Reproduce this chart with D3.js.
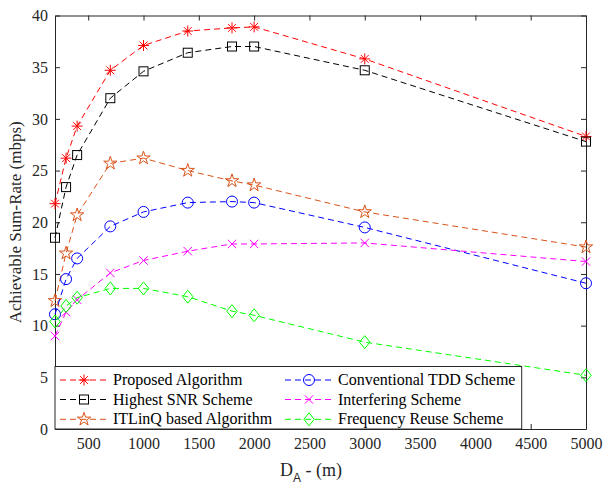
<!DOCTYPE html>
<html><head><meta charset="utf-8">
<script src="https://cdn.jsdelivr.net/npm/d3@7"></script>
<style>body{margin:0;background:#fff}svg{display:block}
text{font-family:'Liberation Serif','Times New Roman',serif}</style>
</head><body>
<script>
const distances = [200, 300, 400, 700, 1000, 1400, 1800, 2000, 3000, 5000];
const proposed   = [21.8, 26.2, 29.3, 34.7, 37.1, 38.5, 38.8, 38.9, 35.8, 28.3];
const highestSNR = [18.5, 23.4, 26.5, 32.0, 34.6, 36.4, 37.0, 37.0, 34.7, 27.8];
const itlinq     = [12.4, 17.0, 20.7, 25.7, 26.2, 25.0, 24.0, 23.6, 21.0, 17.6];
const tdd        = [11.1, 14.5, 16.5, 19.6, 21.0, 21.9, 22.0, 21.9, 19.5, 14.1];
const interfering= [9.0, 11.3, 12.5, 15.1, 16.3, 17.2, 17.9, 17.9, 18.0, 16.2];
const freqReuse  = [10.4, 11.9, 12.7, 13.6, 13.6, 12.8, 11.4, 11.0, 8.4, 5.2];
const xTicks = [500, 1000, 1500, 2000, 2500, 3000, 3500, 4000, 4500, 5000];
const yTicks = [0, 5, 10, 15, 20, 25, 30, 35, 40];
const seriesNames = ["Proposed Algorithm", "Highest SNR Scheme", "ITLinQ based Algorithm",
                     "Conventional TDD Scheme", "Interfering Scheme", "Frequency Reuse Scheme"];

const series = [
  {name: seriesNames[0], values: proposed, color: "#ff0000", marker: "asterisk"},
  {name: seriesNames[1], values: highestSNR, color: "#000000", marker: "square"},
  {name: seriesNames[2], values: itlinq, color: "#d95319", marker: "star"},
  {name: seriesNames[3], values: tdd, color: "#0000ff", marker: "circle"},
  {name: seriesNames[4], values: interfering, color: "#ff00ff", marker: "x"},
  {name: seriesNames[5], values: freqReuse, color: "#00ff00", marker: "diamond"}
];

const W = 606, H = 487;
const m = {left: 55, right: 20, top: 15.5, bottom: 58};
const svg = d3.select("body").append("svg").attr("width", W).attr("height", H);
const font = "'Liberation Serif', 'Times New Roman', serif";

const x = d3.scaleLinear().domain([200, 5000]).range([m.left, W - m.right]);
const y = d3.scaleLinear().domain([0, 40]).range([H - m.bottom, m.top]);
const x0 = m.left, x1 = W - m.right, y0 = H - m.bottom, y1 = m.top;

// axes
const fmt = d3.format("d");
const axB = svg.append("g").attr("transform", `translate(0,${y0})`)
  .call(d3.axisBottom(x).tickValues(xTicks).tickFormat(fmt).tickSizeInner(-5).tickSizeOuter(0).tickPadding(9));
const axT = svg.append("g").attr("transform", `translate(0,${y1})`)
  .call(d3.axisTop(x).tickValues(xTicks).tickSizeInner(-5).tickSizeOuter(0).tickFormat(""));
const axL = svg.append("g").attr("transform", `translate(${x0},0)`)
  .call(d3.axisLeft(y).tickValues(yTicks).tickFormat(fmt).tickSizeInner(-5).tickSizeOuter(0).tickPadding(7));
const axR = svg.append("g").attr("transform", `translate(${x1},0)`)
  .call(d3.axisRight(y).tickValues(yTicks).tickSizeInner(-5).tickSizeOuter(0).tickFormat(""));
[axB, axT, axL, axR].forEach(a => {
  a.attr("font-family", font).attr("font-size", 16);
  a.select(".domain").attr("stroke", "#262626").attr("stroke-width", 1);
  a.selectAll(".tick line").attr("stroke", "#262626");
  a.selectAll("text").attr("font-family", font).attr("font-size", 16).attr("fill", "#262626");
});

svg.append("defs").append("clipPath").attr("id", "c")
  .append("rect").attr("x", x0 - 10).attr("y", y1 - 10).attr("width", x1 - x0 + 20).attr("height", y0 - y1 + 20);

function drawMarker(g, type, cx, cy, color) {
  let el;
  if (type === "asterisk") {
    const r = 5.5, d = r * 0.7071;
    el = g.append("path").attr("d",
      `M${cx - r},${cy}L${cx + r},${cy}M${cx},${cy - r}L${cx},${cy + r}` +
      `M${cx - d},${cy - d}L${cx + d},${cy + d}M${cx - d},${cy + d}L${cx + d},${cy - d}`);
  } else if (type === "square") {
    el = g.append("rect").attr("x", cx - 4.5).attr("y", cy - 4.5).attr("width", 9).attr("height", 9);
  } else if (type === "star") {
    const R = 7, ri = R * 0.382;
    const pts = d3.range(10).map(i => {
      const a = -Math.PI / 2 + i * Math.PI / 5, rr = i % 2 ? ri : R;
      return [cx + rr * Math.cos(a), cy + rr * Math.sin(a)];
    });
    el = g.append("path").attr("d", "M" + pts.map(p => p.join(",")).join("L") + "Z");
  } else if (type === "circle") {
    el = g.append("circle").attr("cx", cx).attr("cy", cy).attr("r", 5.5);
  } else if (type === "x") {
    const d = 4.2;
    el = g.append("path").attr("d",
      `M${cx - d},${cy - d}L${cx + d},${cy + d}M${cx - d},${cy + d}L${cx + d},${cy - d}`);
  } else if (type === "diamond") {
    el = g.append("path").attr("d",
      `M${cx},${cy - 6.5}L${cx + 5.2},${cy}L${cx},${cy + 6.5}L${cx - 5.2},${cy}Z`);
  }
  el.attr("stroke", color).attr("stroke-width", 1).attr("fill", "none");
}

const line = d3.line().x(d => x(d[0])).y(d => y(d[1]));
const plot = svg.append("g").attr("clip-path", "url(#c)");
series.forEach(sr => {
  const pts = distances.map((d, i) => [d, sr.values[i]]);
  plot.append("path").datum(pts).attr("d", line)
    .attr("fill", "none").attr("stroke", sr.color).attr("stroke-width", 1)
    .attr("stroke-dasharray", "6,4");
  const mg = plot.append("g");
  pts.forEach(p => drawMarker(mg, sr.marker, x(p[0]), y(p[1]), sr.color));
});

// legend
const lg = svg.append("g");
const lx0 = x0, lx1 = 521.7, ly0 = 366.5, ly1 = y0;
lg.append("rect").attr("x", lx0).attr("y", ly0).attr("width", lx1 - lx0).attr("height", ly1 - ly0)
  .attr("fill", "#fff").attr("stroke", "#262626").attr("stroke-width", 1);
const rowsY = [380, 399.5, 419.3];
const colX = [60, 285];
series.forEach((sr, i) => {
  const col = Math.floor(i / 3), row = i % 3;
  const lx = colX[col], ly = rowsY[row];
  lg.append("line").attr("x1", lx).attr("x2", lx + 48).attr("y1", ly).attr("y2", ly)
    .attr("stroke", sr.color).attr("stroke-width", 1).attr("stroke-dasharray", "6,4");
  drawMarker(lg, sr.marker, lx + 24, ly, sr.color);
  lg.append("text").attr("x", lx + 53).attr("y", ly + 5).text(sr.name)
    .attr("font-family", font).attr("font-size", 16).attr("fill", "#000");
});

// axis labels
const xl = svg.append("text").attr("x", 280).attr("y", 476)
  .attr("font-family", font).attr("font-size", 18).attr("fill", "#262626");
xl.append("tspan").text("D");
xl.append("tspan").text("A").style("font-family", "'Liberation Sans', Arial, sans-serif")
  .attr("font-size", 12).attr("dy", 6);
xl.append("tspan").text(" - (m)").attr("dy", -6);

svg.append("text").attr("transform", `translate(21,${(y0 + y1) / 2}) rotate(-90)`)
  .attr("text-anchor", "middle").attr("font-family", font).attr("font-size", 17)
  .attr("fill", "#262626").text("Achievable Sum-Rate (mbps)");
</script>
</body></html>
